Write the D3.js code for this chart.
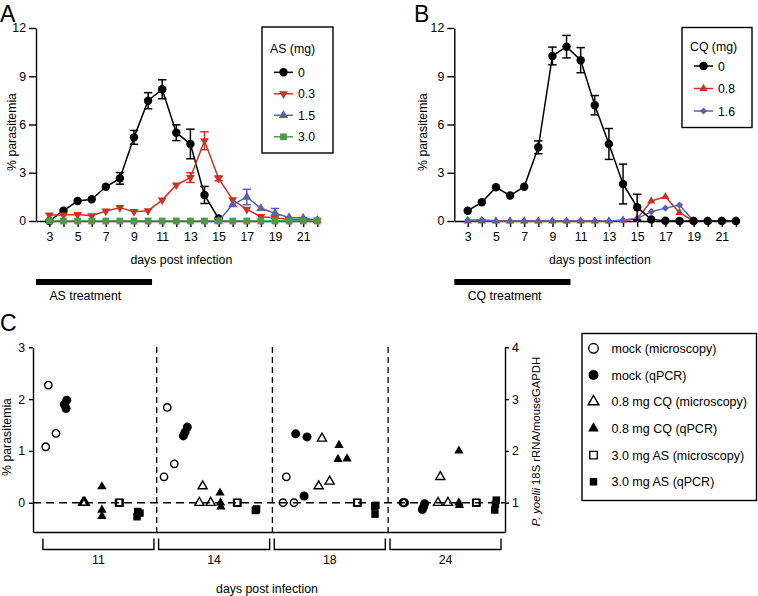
<!DOCTYPE html>
<html><head><meta charset="utf-8">
<script src="https://cdn.jsdelivr.net/npm/d3@7"></script>
<style>
html,body{margin:0;padding:0;background:#fff;}
svg{display:block;font-family:"Liberation Sans",Arial,Helvetica,sans-serif;}
</style></head><body>
<svg id="chart" width="758" height="596"></svg>
<script>
// ---------------- DATA ----------------
const days = [3,4,5,6,7,8,9,10,11,12,13,14,15,16,17,18,19,20,21,22];
const dayTickLabels = [3,5,7,9,11,13,15,17,19,21];
const yTicksAB = [0,3,6,9,12];
const treatmentDays = [2.05, 10.28];

// Panel A: artesunate (AS)
const asLegend = ["0","0.3","1.5","3.0"];
const asDays0 = [3,4,5,6,7,8,9,10,11,12,13,14,15];
const as0 = [0,0.64,1.24,1.35,2.13,2.65,5.2,7.48,8.19,5.49,4.79,1.62,0.15];
const as0Err = [0,0,0,0,0,0.36,0.43,0.5,0.59,0.49,0.92,0.53,0];
const as03 = [0.37,0.37,0.4,0.33,0.62,0.83,0.58,0.64,1.3,2.24,2.7,4.99,2.65,1.32,0.72,0.27,0.2,0.1,0.1,0.05];
const as03Err = [0,0,0,0,0,0,0,0,0,0,0.3,0.56,0.15,0,0,0,0,0,0,0];
const asDays15 = [15,16,17,18,19,20,21,22];
const as15 = [0,1.02,1.49,0.79,0.48,0.22,0.18,0.04];
const as15Err = [0,0,0.48,0,0.3,0,0,0];
const as30 = [0,0,0,0,0,0,0,0,0,0,0,0,0,0,0,0,0,0,0,0];

// Panel B: chloroquine (CQ)
const cqLegend = ["0","0.8","1.6"];
const cq0 = [0.64,1.16,2.1,1.58,2.13,4.58,10.26,10.84,10.0,7.2,4.79,2.3,0.86,0.1,0.02,0,0,0,0,0];
const cq0Err = [0,0,0,0,0,0.4,0.55,0.7,0.78,0.6,0.96,1.24,0.8,0,0,0,0,0,0,0];
const cq08 = [0,0,0,0,0,0,0,0,0,0,0,0.05,0.15,1.24,1.51,0.52,0,0,0,0];
const cq16 = [0.05,0.07,0,0,0,0,0,0,0,0,0,0.05,0.15,0.58,0.8,0.99,0,0,0,0];

// Panel C: microscopy (% parasitemia, left axis) and qPCR (ratio, right axis)
const cGroups = ["11","14","18","24"];
const cLeftTicks = [0,1,2,3];
const cRightTicks = [1,2,3,4];
const cLegend = ["mock (microscopy)","mock (qPCR)","0.8 mg CQ (microscopy)","0.8 mg CQ (qPCR)","3.0 mg AS (microscopy)","3.0 mg AS (qPCR)"];
const mockMicro = [[2.27,1.34,1.08],[1.84,0.75,0.5],[0.5,0,0],[0,0,0]];
const mockMicroJit = [[-0.08,0.36,-0.23],[-0.08,0.32,-0.27],[-0.08,-0.27,0.36],[-0.17,-0.12,-0.22]];
const mockQpcr = [[2.98,2.9,2.82],[2.46,2.36,2.29],[2.33,2.27,1.13],[0.87,0.98,0.92]];
const mockQpcrJit = [[-0.02,-0.16,-0.06],[0.07,-0.06,-0.16],[-0.54,0.11,-0.06],[-0.1,0.03,-0.03]];
const cqMicro = [[0,0,0],[0.32,0,0],[1.24,0.32,0.41],[0.5,0,0]];
const cqMicroJit = [[-0.08,-0.03,0.02],[-0.05,-0.24,0.41],[-0.03,-0.22,0.41],[-0.07,-0.2,0.37]];
const cqQpcr = [[1.31,0.86,0.74],[1.19,1.0,0.92],[2.11,1.84,1.85],[2.0,1.0,0.95]];
const cqQpcrJit = [[0,0,0],[-0.05,-0.02,0],[-0.05,-0.11,0.41],[0,0,0.03]];
const asMicro = [[0,0,0],[0,0,0],[0,0,0],[0,0,0]];
const asMicroJit = [[-0.03,0,0.03],[-0.08,-0.06,-0.04],[-0.02,0,0.02],[-0.02,0,0.02]];
const asQpcr = [[0.83,0.73,0.8],[0.86,0.88,0.85],[0.92,0.78,0.95],[1.05,0.86,0.97]];
const asQpcrJit = [[0.06,0.02,0.19],[0.02,0.05,-0.02],[0,0.02,0.07],[0.15,0.06,0.1]];

// ---------------- DRAWING ----------------
const svg = d3.select("#chart");
const FS = 12.3;
const RED = "#cc3327", BLUE = "#5a62ad", GREEN = "#4d9a4b";

function marker(g, kind, x, y, size, fill, stroke, sw) {
  let type = d3.symbolCircle, rot = 0;
  if (kind === "square") type = d3.symbolSquare;
  if (kind === "diamond") { type = d3.symbolSquare; rot = 45; }
  if (kind === "triangle") type = d3.symbolTriangle;
  if (kind === "triangleDown") { type = d3.symbolTriangle; rot = 180; }
  g.append("path").attr("d", d3.symbol(type, size)())
    .attr("transform", `translate(${x},${y}) rotate(${rot})`)
    .attr("fill", fill).attr("stroke", stroke || "none").attr("stroke-width", sw || 0);
}

function styleAxis(ax) {
  ax.selectAll("path.domain").attr("stroke", "#000").attr("stroke-width", 1.4);
  ax.selectAll(".tick line").attr("stroke", "#000").attr("stroke-width", 1.4);
  ax.selectAll("text").attr("font-size", FS).attr("font-family", "Liberation Sans, Arial, sans-serif").attr("fill", "#000");
}

function timePanel(cfg) {
  const x = d3.scaleLinear().domain([2.05, 22.2]).range([cfg.x0, cfg.x0 + 20.15 * cfg.perDay]);
  const y = d3.scaleLinear().domain([0, 12]).range([221, 28]);
  const g = svg.append("g");

  const ya = g.append("g").attr("transform", `translate(${cfg.x0},0)`)
    .call(d3.axisLeft(y).tickValues(yTicksAB).tickSize(7).tickPadding(3).tickSizeOuter(0).tickFormat(d3.format("d")));
  styleAxis(ya);
  const xa = g.append("g").attr("transform", "translate(0,221)")
    .call(d3.axisBottom(x).tickValues(days).tickSize(6).tickPadding(5).tickSizeOuter(0)
      .tickFormat(d => dayTickLabels.includes(d) ? d : ""));
  styleAxis(xa);

  g.append("text").attr("x", (x(3) + x(22)) / 2 - 2).attr("y", 264).attr("text-anchor", "middle")
    .attr("font-size", FS).text("days post infection");
  g.append("text").attr("transform", `translate(${cfg.ylabX},132) rotate(-90)`).attr("text-anchor", "middle")
    .attr("font-size", FS).text("% parasitemia");
  g.append("text").attr("x", cfg.letterX).attr("y", 21.5).attr("font-size", 23).text(cfg.letter);

  // treatment bar
  g.append("rect").attr("x", x(treatmentDays[0])).attr("y", 279).attr("width", x(treatmentDays[1]) - x(treatmentDays[0]))
    .attr("height", 6).attr("fill", "#000");
  g.append("text").attr("x", x(3)).attr("y", 299.5).attr("font-size", FS).text(cfg.treatLabel);

  const line = d3.line().x(d => x(d.day)).y(d => y(d.v));
  cfg.series.forEach(s => {
    const pts = s.days.map((d, i) => ({ day: d, v: s.values[i], e: s.errs ? s.errs[i] : 0 }));
    g.append("path").datum(pts).attr("d", line).attr("fill", "none").attr("stroke", s.color).attr("stroke-width", 1.5);
    pts.filter(p => p.e > 0).forEach(p => {
      const eg = g.append("g").attr("stroke", s.color).attr("stroke-width", 1.5);
      eg.append("line").attr("x1", x(p.day)).attr("x2", x(p.day)).attr("y1", y(p.v - p.e)).attr("y2", y(p.v + p.e));
      [p.v - p.e, p.v + p.e].forEach(v => eg.append("line").attr("x1", x(p.day) - 4.2).attr("x2", x(p.day) + 4.2)
        .attr("y1", y(v)).attr("y2", y(v)));
    });
    pts.forEach(p => marker(g, s.symbol, x(p.day), y(p.v), s.size, s.color));
  });

  // legend
  const L = cfg.legend;
  g.append("rect").attr("x", L.x).attr("y", L.y).attr("width", L.w).attr("height", L.h)
    .attr("fill", "#fff").attr("stroke", "#000").attr("stroke-width", 1.4);
  g.append("text").attr("x", L.x + 8).attr("y", L.titleY).attr("font-size", FS).text(L.title);
  L.items.forEach((it, i) => {
    const cy = L.firstY + i * L.step;
    g.append("line").attr("x1", L.x + 12).attr("x2", L.x + 31).attr("y1", cy).attr("y2", cy)
      .attr("stroke", it.color).attr("stroke-width", 1.5);
    marker(g, it.symbol, L.x + 21.5, cy, it.size, it.color);
    g.append("text").attr("x", L.x + 36).attr("y", cy + 4.5).attr("font-size", FS).text(it.label);
  });
}

const asSeries = [
  { days: asDays0, values: as0, errs: as0Err, color: "#000", symbol: "circle", size: 56 },
  { days: days, values: as03, errs: as03Err, color: RED, symbol: "triangleDown", size: 34 },
  { days: asDays15, values: as15, errs: as15Err, color: BLUE, symbol: "triangle", size: 36 },
  { days: days, values: as30, errs: null, color: GREEN, symbol: "square", size: 46 }
];
timePanel({
  x0: 36, perDay: 14.1, ylabX: 16, letter: "A", letterX: 0, treatLabel: "AS treatment",
  series: asSeries,
  legend: { x: 262, y: 27, w: 71, h: 126, title: "AS (mg)", titleY: 52.5, firstY: 72.3, step: 21.5,
    items: asSeries.map((s, i) => ({ color: s.color, symbol: s.symbol, size: s.size, label: asLegend[i] })) }
});

const cqSeries = [
  { days: days, values: cq08, errs: null, color: RED, symbol: "triangle", size: 30 },
  { days: days, values: cq16, errs: null, color: BLUE, symbol: "diamond", size: 26 },
  { days: days, values: cq0, errs: cq0Err, color: "#000", symbol: "circle", size: 56 }
];
const cqLegendOrder = [2, 0, 1];
timePanel({
  x0: 454.3, perDay: 14.12, ylabX: 427, letter: "B", letterX: 414, treatLabel: "CQ treatment",
  series: cqSeries,
  legend: { x: 682, y: 27.5, w: 70, h: 100, title: "CQ (mg)", titleY: 51, firstY: 66, step: 22.5,
    items: cqLegendOrder.map((si, i) => ({ color: cqSeries[si].color, symbol: cqSeries[si].symbol, size: cqSeries[si].size, label: cqLegend[i] })) }
});

// ---------------- PANEL C ----------------
(function () {
  const g = svg.append("g");
  const groupStep = 6.84;
  const xC = d3.scaleLinear().domain([-0.96, 26.17]).range([33, 505]);
  const yL = d3.scaleLinear().domain([-0.565, 3]).range([532, 347.3]);
  const yR = d3.scaleLinear().domain([0.435, 4]).range([532, 347.3]);

  g.append("text").attr("x", 0).attr("y", 331).attr("font-size", 23).text("C");

  // zero dashed line
  g.append("line").attr("x1", xC(-0.96)).attr("x2", xC(26.17)).attr("y1", yL(0)).attr("y2", yL(0))
    .attr("stroke", "#000").attr("stroke-width", 1.4).attr("stroke-dasharray", "8,5");
  // group dividers and brackets
  const bStep = 6.65;
  cGroups.forEach((lab, gi) => {
    if (gi > 0) {
      const xv = xC(6.15 + (gi - 1) * bStep);
      g.append("line").attr("x1", xv).attr("x2", xv).attr("y1", 347).attr("y2", 532)
        .attr("stroke", "#000").attr("stroke-width", 1.3).attr("stroke-dasharray", "6,4");
    }
    const a = xC(-0.39 + gi * bStep), b = xC(5.99 + gi * bStep);
    g.append("path").attr("d", `M${a},538.5V549.5H${b}V538.5`).attr("fill", "none").attr("stroke", "#000").attr("stroke-width", 1.4);
    g.append("text").attr("x", (a + b) / 2).attr("y", 564).attr("text-anchor", "middle").attr("font-size", FS).text(lab);
  });

  const la = g.append("g").attr("transform", "translate(33,0)")
    .call(d3.axisLeft(yL).tickValues(cLeftTicks).tickSize(4).tickPadding(4).tickSizeOuter(0).tickFormat(d3.format("d")));
  styleAxis(la);
  const ra = g.append("g").attr("transform", "translate(505,0)")
    .call(d3.axisRight(yR).tickValues(cRightTicks).tickSize(4).tickPadding(3).tickSizeOuter(0).tickFormat(d3.format("d")));
  styleAxis(ra);
  const ba = g.append("g").attr("transform", "translate(0,532)")
    .call(d3.axisBottom(xC).tickValues([]).tickSizeOuter(0));
  styleAxis(ba);

  g.append("text").attr("transform", "translate(10.5,437) rotate(-90)").attr("text-anchor", "middle")
    .attr("font-size", FS).text("% parasitemia");
  const rl = g.append("text").attr("transform", "translate(539.5,441.5) rotate(-90)").attr("text-anchor", "middle")
    .attr("font-size", 11.3);
  rl.append("tspan").attr("font-style", "italic").text("P. yoelii");
  rl.append("tspan").text(" 18S rRNA/mouseGAPDH");
  g.append("text").attr("x", 267).attr("y", 592.5).attr("text-anchor", "middle").attr("font-size", FS).text("days post infection");

  const cSeries = [
    { vals: mockMicro, jit: mockMicroJit, axis: yL, symbol: "circle", size: 43, open: true, lsize: 72 },
    { vals: mockQpcr, jit: mockQpcrJit, axis: yR, symbol: "circle", size: 64, open: false, lsize: 78 },
    { vals: cqMicro, jit: cqMicroJit, axis: yL, symbol: "triangle", size: 36, open: true, lsize: 50 },
    { vals: cqQpcr, jit: cqQpcrJit, axis: yR, symbol: "triangle", size: 38, open: false, lsize: 50 },
    { vals: asMicro, jit: asMicroJit, axis: yL, symbol: "square", size: 44, open: true, lsize: 56 },
    { vals: asQpcr, jit: asQpcrJit, axis: yR, symbol: "square", size: 56, open: false, lsize: 56 }
  ];
  cSeries.forEach((s, si) => {
    s.vals.forEach((arr, gi) => arr.forEach((v, k) => {
      const xv = xC(gi * groupStep + si + s.jit[gi][k]);
      marker(g, s.symbol, xv, s.axis(v), s.size, s.open ? "none" : "#000", s.open ? "#000" : "none", 1.4);
    }));
  });

  // legend
  g.append("rect").attr("x", 582).attr("y", 333.5).attr("width", 174.5).attr("height", 167)
    .attr("fill", "none").attr("stroke", "#000").attr("stroke-width", 1.4);
  cSeries.forEach((s, i) => {
    const cy = 348.3 + i * 26.7;
    marker(g, s.symbol, 593.5, cy, s.lsize, s.open ? "none" : "#000", s.open ? "#000" : "none", 1.4);
    g.append("text").attr("x", 611.5).attr("y", cy + 4.5).attr("font-size", 12.5).text(cLegend[i]);
  });
})();
</script>
</body></html>
